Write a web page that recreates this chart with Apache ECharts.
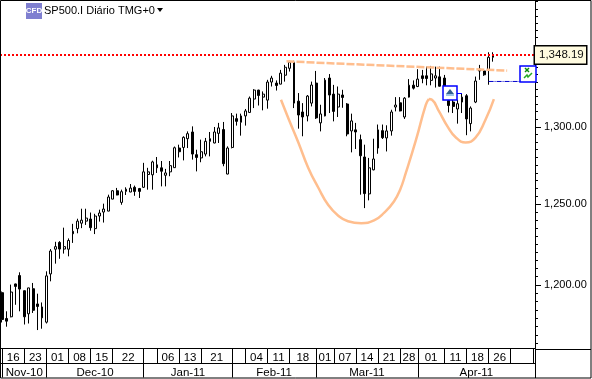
<!DOCTYPE html>
<html><head><meta charset="utf-8">
<style>html,body{margin:0;padding:0;background:#fff}#c{width:592px;height:379px}</style>
<script src="https://cdn.jsdelivr.net/npm/echarts@6/dist/echarts.min.js"></script>
</head><body><div id="c"></div>
<script>
const opens = [
1195.3,1179.8,1180.8,1200.6,1205.7,1196.5,1182.6,1197.7,1188.5,1186.7,
1177.6,1206.7,1221.9,1226.1,1222,1221.9,1233,1234.7,1238.1,1239.4,
1240.7,1234.7,1242.6,1245.1,1245.7,1253.3,1258.6,1251.2,1258.2,1257.8,
1260.8,1260,1260.8,1269,1268.8,1275.2,1273.3,1268.5,1270.7,1273.4,
1286.1,1286.5,1292.2,1296.6,1281.8,1279.7,1282.2,1292.2,1289.4,1295.7,
1298.2,1269.3,1286.5,1305.4,1303,1307.2,1309.5,1318.4,1324.4,1319.7,
1317.7,1329.8,1329.1,1328.4,1334.4,1339.1,1343.2,1317,1309.8,1307.2,
1315.7,1329.1,1302.6,1307.2,1332.5,1321.7,1313.1,1321.1,1315.1,1297.3,
1298,1291.6,1280.3,1256.6,1272,1286.1,1297.5,1292.7,1297.3,1313.1,
1315.9,1306.5,1319.7,1327.7,1326.8,1334,1334,1330.9,1332.5,1333.3,
1332.5,1317.4,1316.4,1311.8,1316.4,1320.6,1302.1,1316.4,1338.5,1337.3,1338,1346.6];
const closes = [
1179.2,1178.2,1195.7,1199.1,1197.5,1180.8,1198.2,1184.7,1187,1180.2,
1205.5,1220.8,1223.5,1222,1223.5,1227.3,1231.5,1239.4,1240,1241.3,
1235.3,1242.6,1244.5,1247,1254.6,1258.6,1255.9,1258,1259.6,1260.3,
1258.2,1258.2,1270.7,1270.7,1277.1,1273.3,1271.1,1270,1274.7,1286.3,
1283.7,1293.1,1295.5,1282.2,1280,1283.7,1290.5,1290.5,1296.6,1299.3,
1276,1286.1,1307.2,1303.6,1307.2,1310.5,1319,1324.4,1320.8,1321.7,
1329.8,1332.5,1327.5,1335.8,1339.8,1343.2,1315.7,1307.8,1306.5,1320.4,
1327.8,1305.9,1308.5,1331.1,1321.1,1310.2,1321.7,1319.5,1295.3,1303.9,
1296.6,1281.1,1256.8,1273.3,1279,1298,1292.9,1297.3,1309.8,1314.4,
1310.5,1319,1327.7,1325.7,1331.8,1332.2,1332.2,1335.3,1334,1327,
1320.6,1314.1,1313.5,1315.3,1319.7,1305.2,1312.4,1330.5,1337.3,1334.7,1346.6,1348.19];
const lows = [
1177.4,1174.9,1180.5,1188,1184.1,1176.2,1176.8,1183.1,1172.9,1173.7,
1176.8,1202.2,1213,1216,1219.2,1217.5,1225.8,1231.8,1235,1237,
1233.4,1231.3,1239.1,1238.5,1245.6,1253.2,1255.7,1249.7,1255.9,1257.7,
1255.4,1254,1260.4,1259.3,1259.3,1270,1261.4,1261.4,1267.9,1273.3,
1280,1278.1,1286.1,1278.6,1271,1276.9,1280.7,1280.7,1289.2,1289.4,
1274.3,1269.1,1285.9,1300.8,1294.2,1300.8,1309.1,1312.4,1314.1,1310.9,
1312,1326.8,1324.1,1328.3,1330.1,1336.9,1312.4,1298.8,1293.8,1303.6,
1313.5,1305.2,1297,1306.9,1309.1,1303.6,1306.5,1312.6,1293.8,1283.3,
1285.5,1256.1,1247.6,1252.5,1271.7,1282.4,1292,1283.9,1294.2,1310.2,
1310.2,1305.2,1319.4,1324.8,1326.4,1329,1327.6,1327.6,1326.1,1326.8,
1317.9,1309.5,1309.1,1302.1,1309.1,1294.5,1297,1315.7,1331.3,1334,1328,1343.6];
const highs = [
1196,1184.1,1200.2,1200.8,1207.7,1196.6,1198.3,1201.2,1194.7,1189.4,
1208.3,1222,1226.5,1226.9,1235.3,1228.6,1237.7,1240.9,1247.2,1247.2,
1244.8,1244,1246.6,1250.4,1256.1,1259,1260.4,1259.3,1260.8,1262.9,
1261.9,1260.4,1276.5,1273.3,1277.9,1280.3,1277.7,1272.6,1277.7,1287.1,
1288.3,1293.8,1297,1300.3,1285,1291.6,1292.7,1296.6,1299.9,1302.6,
1303.2,1287.2,1309.1,1308.7,1308.7,1311.8,1320.1,1325,1324.6,1323.5,
1331.3,1334,1330.9,1338,1341.4,1344.2,1344.2,1322.4,1315.7,1321.1,
1330.1,1337.3,1314.6,1332.5,1335.2,1327.9,1326.8,1324.6,1315.7,1308.7,
1302.6,1294.9,1288.3,1279.7,1292.2,1301.5,1301.5,1301,1311.3,1319.7,
1319.7,1319.7,1331.8,1330.9,1338.5,1338,1340.2,1340.7,1340.2,1340.2,
1334.6,1322,1320,1317.9,1322.4,1321.7,1313.5,1333.5,1341.4,1338.5,1350,1350];

const lastPrice = 1348.19;
const dayBars = [0,5,10,15,20,25,32,35,40,45,52,55,60,65,71,75,80,85,90,94,100,105,110,115,120];
const dayNames = ['16','23','01','08','15','22','','06','13','21','','04','11','18','01','07','14','21','28','01','11','18','26',''];
const monthBars = [0,10,32,52,71,94,120.5];
const monthNames = ['Nov-10','Dec-10','Jan-11','Feb-11','Mar-11','Apr-11'];
const priceMajor = [1200,1250,1300];
const neckline = [[64.3,1343.8],[114.2,1337.5]];
const cupCurve = [[63.05,1317.9],[64.85,1304.7],[67,1289.6],[69.2,1273.4],[71.5,1260.5],[73.7,1249.7],[76,1242.8],[78.2,1239.3],[81.2,1238.1],[84.1,1239.8],[86.4,1244.7],[88.6,1251.8],[90,1259.3],[91.3,1270.2],[93.6,1291.6],[95.8,1314.6],[96.5,1318.4]];
const handleCurve = [[96.5,1318.4],[97.2,1317.9],[98.8,1310.2],[100.7,1300.3],[102.6,1293],[104.8,1289.8],[107,1292.7],[109.3,1304.7],[111.2,1318.4]];
const signalLine = [[110,1330.2],[117,1330.2]];
const markerUp = [[101.3,1322.3]];
const markerTrade = [[118.9,1335]];

const FONT = '"Liberation Sans", Arial, sans-serif';
const TOTAL = 121;
const categories = Array.from({length: TOTAL}, (_, i) => String(i));
const candleData = opens.map((o, i) => [o, closes[i], lows[i], highs[i]]);
const priceTicks = [];
for (let p = 1165; p <= 1385; p += 5) priceTicks.push(p);

const dayMid = dayNames.map((_, i) => (dayBars[i] + dayBars[i + 1]) / 2);
const monthMid = monthNames.map((_, i) => (monthBars[i] + monthBars[i + 1]) / 2);
const peach = '#ffbe8e';
const fmtPrice = v => Number(v).toLocaleString('en-US', {minimumFractionDigits: 2, maximumFractionDigits: 2});

const chart = echarts.init(document.getElementById('c'), null, {renderer: 'canvas'});
const pickLabel = (mids, names) => v => {
  for (let i = 0; i < mids.length; i++) if (Math.abs(mids[i] - v) < 0.01) return names[i];
  return '';
};
chart.setOption({
  animation: false,
  backgroundColor: '#fff',
  title: {text: 'SP500.I Diário TMG+0', left: 44, top: 5, padding: 0,
    textStyle: {fontFamily: FONT, fontSize: 11, fontWeight: 'normal', color: '#000'}},
  grid: {left: -3.33, top: 1, width: 538.33, height: 348},
  xAxis: [
    {type: 'category', data: categories, show: false},
    {type: 'value', min: -0.5, max: 120.5, position: 'bottom', splitLine: {show: false},
      axisLine: {show: true, onZero: false, lineStyle: {color: '#000'}},
      axisTick: {show: true, length: 15, customValues: dayBars, lineStyle: {color: '#000'}},
      axisLabel: {customValues: dayMid, margin: 3, hideOverlap: false, formatter: pickLabel(dayMid, dayNames),
        fontFamily: FONT, fontSize: 11.5, color: '#000'}},
    {type: 'value', min: -0.5, max: 120.5, position: 'bottom', offset: 15, splitLine: {show: false},
      axisLine: {show: true, onZero: false, lineStyle: {color: '#000'}},
      axisTick: {show: true, length: 14, customValues: monthBars, lineStyle: {color: '#000'}},
      axisLabel: {customValues: monthMid, margin: 3.5, hideOverlap: false, formatter: pickLabel(monthMid, monthNames),
        fontFamily: FONT, fontSize: 11.5, color: '#000'}}
  ],
  yAxis: [
    {type: 'log', min: 1162, max: 1385.5, position: 'right', splitLine: {show: false}, minorTick: {show: false},
      axisLine: {show: true, onZero: false, lineStyle: {color: '#000'}},
      axisTick: {show: true, length: 6, customValues: priceMajor, lineStyle: {color: '#000'}},
      axisLabel: {customValues: priceMajor, margin: 9, hideOverlap: false, formatter: fmtPrice, padding: [2, 0, 0, 0],
        fontFamily: FONT, fontSize: 11, color: '#000'}},
    {type: 'log', min: 1162, max: 1385.5, position: 'right', splitLine: {show: false},
      axisLine: {show: false, onZero: false},
      axisTick: {show: true, length: 3, customValues: priceTicks, lineStyle: {color: '#000'}},
      axisLabel: {show: false}}
  ],
  series: [
    {type: 'candlestick', name: 'SP500.I', xAxisIndex: 0, yAxisIndex: 0, data: candleData, barWidth: 2.4,
      itemStyle: {color: '#fff', color0: '#000', borderColor: '#000', borderColor0: '#000', borderWidth: 1}, z: 3},
    {type: 'line', name: 'cup', xAxisIndex: 1, yAxisIndex: 0, data: cupCurve, smooth: 0.5, symbol: 'none',
      lineStyle: {color: peach, width: 2.5}, z: 4},
    {type: 'line', name: 'handle', xAxisIndex: 1, yAxisIndex: 0, data: handleCurve, smooth: 0.5, symbol: 'none',
      lineStyle: {color: peach, width: 2.5}, z: 4},
    {type: 'line', name: 'neckline', xAxisIndex: 1, yAxisIndex: 0, data: neckline, symbol: 'none',
      lineStyle: {color: peach, width: 2.5, type: [8, 2]}, z: 4},
    {type: 'line', name: 'price', xAxisIndex: 1, yAxisIndex: 0, data: [[-0.5, lastPrice], [120.5, lastPrice]], symbol: 'none',
      lineStyle: {color: '#ff0000', width: 2, type: [2, 2]}, z: 5,
      endLabel: {show: true, formatter: () => fmtPrice(lastPrice), distance: 0, fontFamily: FONT, fontSize: 11.5, color: '#111',
        backgroundColor: '#fffbe0', borderColor: '#000', borderWidth: 1.5, padding: [2, 3, 2, 4], width: 44, height: 13, lineHeight: 13, align: 'left'}},
    {type: 'line', name: 'signal', xAxisIndex: 1, yAxisIndex: 0, data: signalLine, symbol: 'none',
      lineStyle: {color: '#0000cc', width: 1, type: [5, 1, 1, 1]}, z: 5},
    {type: 'custom', name: 'markerUp', xAxisIndex: 1, yAxisIndex: 0, data: markerUp, clip: false, z: 6,
      renderItem: (p, api) => {
        const c = api.coord([api.value(0), api.value(1)]);
        return {type: 'group', x: Math.round(c[0]), y: Math.round(c[1]), children: [
          {type: 'line', shape: {x1: 7, y1: 0.5, x2: 12, y2: 0.5}, style: {stroke: '#0000ff', lineWidth: 1}},
          {type: 'rect', shape: {x: -7, y: -7, width: 14, height: 14}, style: {fill: '#fff', stroke: '#0000ff', lineWidth: 1.5}},
          {type: 'polygon', shape: {points: [[0, -4], [4, 1], [-4, 1]]}, style: {fill: '#34618f'}},
          {type: 'rect', shape: {x: -4, y: 1, width: 8, height: 2}, style: {fill: '#9cc4e8'}}
        ]};
      }},
    {type: 'custom', name: 'markerTrade', xAxisIndex: 1, yAxisIndex: 0, data: markerTrade, clip: false, z: 6,
      renderItem: (p, api) => {
        const c = api.coord([api.value(0), api.value(1)]);
        return {type: 'group', x: Math.round(c[0]), y: Math.round(c[1]), children: [
          {type: 'rect', shape: {x: -8, y: -8, width: 16, height: 16}, style: {fill: '#fff', stroke: '#0000ff', lineWidth: 1.5}},
          {type: 'line', shape: {x1: -3, y1: -6, x2: 1, y2: -2}, style: {stroke: '#0a8a0a', lineWidth: 1.5}},
          {type: 'line', shape: {x1: 1, y1: -6, x2: -3, y2: -2}, style: {stroke: '#0a8a0a', lineWidth: 1.5}},
          {type: 'polyline', shape: {points: [[-4, 4], [-1, 1], [0, 3], [4, -1]]}, style: {stroke: '#22aa22', fill: 'none', lineWidth: 1.5}}
        ]};
      }}
  ],
  graphic: [
    {type: 'rect', shape: {x: 0.5, y: 0.5, width: 590.5, height: 377.5}, style: {fill: 'none', stroke: '#000', lineWidth: 1}, z: 20, silent: true},
    {type: 'line', shape: {x1: 535, y1: 349.5, x2: 591, y2: 349.5}, style: {stroke: '#000', lineWidth: 1}, z: 20, silent: true},
    {type: 'line', shape: {x1: 535.5, y1: 349, x2: 535.5, y2: 378}, style: {stroke: '#000', lineWidth: 1}, z: 20, silent: true},
    {type: 'rect', shape: {x: 26, y: 3, width: 16, height: 16}, style: {fill: '#7f7fd0'}, z: 20, silent: true},
    {type: 'text', x: 34, y: 11, style: {text: 'CFD', fill: '#fff', font: 'bold 8px ' + FONT, align: 'center', verticalAlign: 'middle'}, z: 21, silent: true},
    {type: 'polygon', shape: {points: [[157, 8], [163, 8], [160, 12]]}, style: {fill: '#000'}, z: 20, silent: true}
  ]
});
</script></body></html>
